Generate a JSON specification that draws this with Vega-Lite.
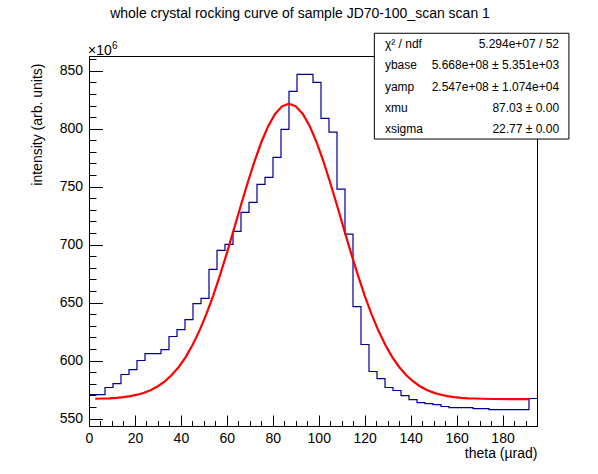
{
  "$schema": "https://vega.github.io/schema/vega-lite/v6.json",
  "width": 448,
  "height": 370,
  "autosize": "none",
  "padding": {"left": 89, "top": 56, "right": 61, "bottom": 48},
  "background": "white",
  "config": {
    "font": "Liberation Sans",
    "view": {"stroke": "black", "strokeWidth": 1},
    "axis": {"labelColor": "black", "titleColor": "black", "domainColor": "black", "tickColor": "black", "grid": false, "labelFontWeight": "normal", "titleFontWeight": "normal", "labelOverlap": false}
  },
  "title": {
    "text": "whole crystal rocking curve of sample JD70-100_scan scan 1",
    "fontSize": 14,
    "fontWeight": "normal",
    "color": "black",
    "anchor": "middle",
    "dx": -13,
    "offset": 12
  },
  "datasets": {
    "hist": [
      {"theta": 0, "intensity": 570.7},
      {"theta": 3.482, "intensity": 570.7},
      {"theta": 6.964, "intensity": 576.8},
      {"theta": 10.446, "intensity": 580.2},
      {"theta": 13.929, "intensity": 588.0},
      {"theta": 17.411, "intensity": 592.3},
      {"theta": 20.893, "intensity": 600.1},
      {"theta": 24.375, "intensity": 606.1},
      {"theta": 27.857, "intensity": 606.1},
      {"theta": 31.339, "intensity": 609.5},
      {"theta": 34.821, "intensity": 620.8},
      {"theta": 38.304, "intensity": 626.8},
      {"theta": 41.786, "intensity": 635.4},
      {"theta": 45.268, "intensity": 649.2},
      {"theta": 48.75, "intensity": 653.6},
      {"theta": 52.232, "intensity": 678.6},
      {"theta": 55.714, "intensity": 695.0},
      {"theta": 59.196, "intensity": 700.2},
      {"theta": 62.679, "intensity": 711.4},
      {"theta": 66.161, "intensity": 727.8},
      {"theta": 69.643, "intensity": 736.4},
      {"theta": 73.125, "intensity": 752.0},
      {"theta": 76.607, "intensity": 758.0},
      {"theta": 80.089, "intensity": 775.3},
      {"theta": 83.571, "intensity": 799.4},
      {"theta": 87.054, "intensity": 832.2},
      {"theta": 90.536, "intensity": 846.9},
      {"theta": 94.018, "intensity": 846.9},
      {"theta": 97.5, "intensity": 840.0},
      {"theta": 100.982, "intensity": 808.9},
      {"theta": 104.464, "intensity": 797.1},
      {"theta": 107.946, "intensity": 747.9},
      {"theta": 111.429, "intensity": 709.1},
      {"theta": 114.911, "intensity": 646.5},
      {"theta": 118.393, "intensity": 613.9},
      {"theta": 121.875, "intensity": 590.6},
      {"theta": 125.357, "intensity": 584.5},
      {"theta": 128.839, "intensity": 576.8},
      {"theta": 132.321, "intensity": 574.2},
      {"theta": 135.804, "intensity": 569.8},
      {"theta": 139.286, "intensity": 566.4},
      {"theta": 142.768, "intensity": 563.8},
      {"theta": 146.25, "intensity": 562.9},
      {"theta": 149.732, "intensity": 562.1},
      {"theta": 153.214, "intensity": 560.4},
      {"theta": 156.696, "intensity": 559.5},
      {"theta": 160.179, "intensity": 559.5},
      {"theta": 163.661, "intensity": 559.5},
      {"theta": 167.143, "intensity": 558.6},
      {"theta": 170.625, "intensity": 558.6},
      {"theta": 174.107, "intensity": 557.8},
      {"theta": 177.589, "intensity": 557.8},
      {"theta": 181.071, "intensity": 557.8},
      {"theta": 184.554, "intensity": 557.8},
      {"theta": 188.036, "intensity": 557.8},
      {"theta": 191.518, "intensity": 567.3},
      {"theta": 195.0, "intensity": 567.3}
    ],
    "fit": [
      {"theta": 2.7, "intensity": 567.1},
      {"theta": 6, "intensity": 567.3},
      {"theta": 9, "intensity": 567.5},
      {"theta": 12, "intensity": 567.9},
      {"theta": 15, "intensity": 568.5},
      {"theta": 18, "intensity": 569.4},
      {"theta": 21, "intensity": 570.6},
      {"theta": 24, "intensity": 572.3},
      {"theta": 27, "intensity": 574.7},
      {"theta": 30, "intensity": 577.9},
      {"theta": 33, "intensity": 582.1},
      {"theta": 36, "intensity": 587.5},
      {"theta": 39, "intensity": 594.3},
      {"theta": 42, "intensity": 602.8},
      {"theta": 45, "intensity": 613.2},
      {"theta": 48, "intensity": 625.4},
      {"theta": 51, "intensity": 639.6},
      {"theta": 54, "intensity": 655.7},
      {"theta": 57, "intensity": 673.5},
      {"theta": 60, "intensity": 692.7},
      {"theta": 63, "intensity": 712.7},
      {"theta": 66, "intensity": 733.1},
      {"theta": 69, "intensity": 753.0},
      {"theta": 72, "intensity": 771.6},
      {"theta": 75, "intensity": 788.3},
      {"theta": 78, "intensity": 802.2},
      {"theta": 81, "intensity": 812.7},
      {"theta": 84, "intensity": 819.3},
      {"theta": 87, "intensity": 821.5},
      {"theta": 90, "intensity": 819.3},
      {"theta": 93, "intensity": 812.9},
      {"theta": 96, "intensity": 802.5},
      {"theta": 99, "intensity": 788.6},
      {"theta": 102, "intensity": 772.0},
      {"theta": 105, "intensity": 753.4},
      {"theta": 108, "intensity": 733.5},
      {"theta": 111, "intensity": 713.2},
      {"theta": 114, "intensity": 693.1},
      {"theta": 117, "intensity": 673.9},
      {"theta": 120, "intensity": 656.1},
      {"theta": 123, "intensity": 639.9},
      {"theta": 126, "intensity": 625.7},
      {"theta": 129, "intensity": 613.4},
      {"theta": 132, "intensity": 603.0},
      {"theta": 135, "intensity": 594.5},
      {"theta": 138, "intensity": 587.6},
      {"theta": 141, "intensity": 582.2},
      {"theta": 144, "intensity": 577.9},
      {"theta": 147, "intensity": 574.7},
      {"theta": 150, "intensity": 572.4},
      {"theta": 153, "intensity": 570.6},
      {"theta": 156, "intensity": 569.4},
      {"theta": 159, "intensity": 568.5},
      {"theta": 162, "intensity": 567.9},
      {"theta": 165, "intensity": 567.5},
      {"theta": 168, "intensity": 567.3},
      {"theta": 171, "intensity": 567.1},
      {"theta": 176, "intensity": 566.9},
      {"theta": 184, "intensity": 566.8},
      {"theta": 192, "intensity": 566.8}
    ],
    "stats": [
      {"param": "χ² / ndf", "value": "5.294e+07 / 52"},
      {"param": "ybase", "value": "5.668e+08 ± 5.351e+03"},
      {"param": "yamp", "value": "2.547e+08 ± 1.074e+04"},
      {"param": "xmu", "value": "87.03 ± 0.00"},
      {"param": "xsigma", "value": "22.77 ± 0.00"}
    ]
  },
  "layer": [
    {
      "layer": [
        {
          "data": {"name": "hist"},
          "mark": {"type": "line", "interpolate": "step-after", "color": "#000099", "strokeWidth": 1.2},
          "encoding": {
            "x": {
              "field": "theta",
              "type": "quantitative",
              "scale": {"domain": [0, 195], "nice": false, "zero": false},
              "axis": {
                "values": [0, 5, 10, 15, 20, 25, 30, 35, 40, 45, 50, 55, 60, 65, 70, 75, 80, 85, 90, 95, 100, 105, 110, 115, 120, 125, 130, 135, 140, 145, 150, 155, 160, 165, 170, 175, 180, 185, 190, 195],
                "tickCount": 200,
                "labelExpr": "datum.value % 20 === 0 ? format(datum.value, 'd') : ''",
                "labelOverlap": false,
                "labelFlush": false,
                "labelFontSize": 14,
                "labelPadding": 16,
                "tickSize": {"condition": {"test": "datum.value % 20 === 0", "value": -11}, "value": -5.5},
                "title": "theta (µrad)",
                "titleFontSize": 14,
                "titleAnchor": "end",
                "titleAlign": "right",
                "titleBaseline": "middle",
                "titleX": 448,
                "titleY": 27
              }
            },
            "y": {
              "field": "intensity",
              "type": "quantitative",
              "scale": {"domain": [543.6, 862.7], "nice": false, "zero": false},
              "axis": {
                "values": [550, 560, 570, 580, 590, 600, 610, 620, 630, 640, 650, 660, 670, 680, 690, 700, 710, 720, 730, 740, 750, 760, 770, 780, 790, 800, 810, 820, 830, 840, 850, 860],
                "tickCount": 200,
                "labelExpr": "datum.value % 50 === 0 ? format(datum.value, 'd') : ''",
                "labelOverlap": false,
                "labelBound": false,
                "labelFlush": false,
                "labelFontSize": 14,
                "labelPadding": 20,
                "tickSize": {"condition": {"test": "datum.value % 50 === 0", "value": -13.5}, "value": -7},
                "title": "intensity (arb. units)",
                "titleFontSize": 14,
                "titleAngle": -90,
                "titleAlign": "right",
                "titleBaseline": "middle",
                "titleX": -52,
                "titleY": 7
              }
            }
          }
        },
        {
          "data": {"name": "fit"},
          "mark": {"type": "line", "color": "#ff0000", "strokeWidth": 2.2},
          "encoding": {
            "x": {"field": "theta", "type": "quantitative"},
            "y": {"field": "intensity", "type": "quantitative"}
          }
        },
        {
          "data": {"values": [{}]},
          "mark": {"type": "text", "text": "×10", "fontSize": 14, "align": "left", "baseline": "alphabetic", "dx": -1, "dy": -1, "color": "black"},
          "encoding": {"x": {"datum": 0}, "y": {"datum": 862.7}}
        },
        {
          "data": {"values": [{}]},
          "mark": {"type": "text", "text": "6", "fontSize": 10, "align": "left", "baseline": "alphabetic", "dx": 23, "dy": -7, "color": "black"},
          "encoding": {"x": {"datum": 0}, "y": {"datum": 862.7}}
        },
        {
          "data": {"values": [{}]},
          "mark": {"type": "rect", "fill": "white", "stroke": "black", "strokeWidth": 1},
          "encoding": {
            "x": {"datum": 124.2},
            "x2": {"datum": 208.9},
            "y": {"datum": 882.3},
            "y2": {"datum": 791.1}
          }
        }
      ]
    },
    {
      "data": {"name": "stats"},
      "encoding": {
        "y": {
          "field": "param",
          "type": "nominal",
          "sort": null,
          "scale": {"type": "point", "range": [-12, 73.3], "padding": 0},
          "axis": null
        }
      },
      "layer": [
        {
          "mark": {"type": "text", "fontSize": 12, "align": "left", "baseline": "middle", "color": "black"},
          "encoding": {"x": {"datum": 128.8}, "text": {"field": "param"}}
        },
        {
          "mark": {"type": "text", "fontSize": 12, "align": "right", "baseline": "middle", "color": "black"},
          "encoding": {"x": {"datum": 204.6}, "text": {"field": "value"}}
        }
      ]
    }
  ],
  "resolve": {"scale": {"y": "independent"}, "axis": {"y": "independent"}}
}
